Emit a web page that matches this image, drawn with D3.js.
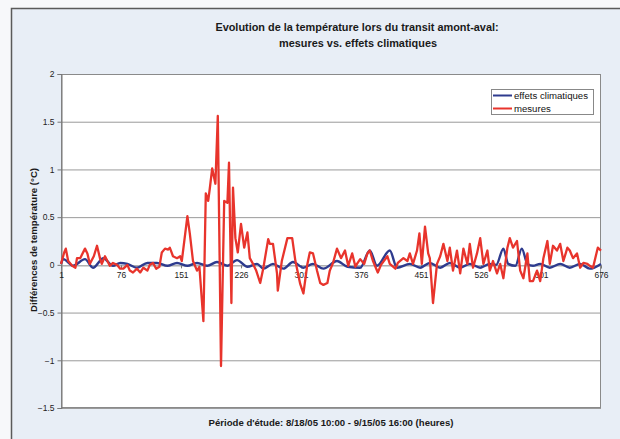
<!DOCTYPE html>
<html>
<head>
<meta charset="utf-8">
<script src="https://cdn.jsdelivr.net/npm/d3@7"></script>
<style>
  body { margin: 0; background: #f7f8fa; }
  svg { display: block; font-family: "Liberation Sans", Arial, sans-serif; }
</style>
</head>
<body>
<svg id="chart"></svg>
<script>
const width = 620;
const height = 439;

// hours (category index) and values
const mesuresHours = [1,5,7,10,15,19,21,25,31,34,37,42,46,50,52,56,62,66,71,75,79,84,87,91,96,100,104,109,112,116,120,124,127,131,135,137,141,146,150,152,159,162,166,171,174,179,182,185,187,190,194,197,201,205,209,211,214,216,219,222,226,230,234,237,241,245,250,254,256,260,262,266,271,272,277,284,290,294,300,304,309,312,316,321,325,329,334,337,341,346,351,356,360,365,369,371,375,380,384,387,391,397,401,409,412,419,422,429,434,437,441,446,449,452,456,460,462,466,471,475,479,484,487,491,496,500,504,509,512,516,521,525,529,534,537,541,546,550,554,559,562,566,571,575,579,584,587,591,596,600,604,609,612,616,621,625,629,634,637,641,646,650,654,659,662,666,672,676];
const mesuresValues = [0.01,0.13,0.17,0.04,-0.01,-0.03,0.07,0.07,0.17,0.12,0.01,0.09,0.2,0.06,0.01,0.09,-0.01,0.02,0,-0.04,-0.04,0,-0.06,-0.08,-0.04,-0.08,-0.03,-0.06,0,0.02,-0.04,-0.02,0.13,0.17,0.16,0.18,0.09,0.07,0.09,0.04,0.51,0.33,0.04,-0.06,-0.02,-0.59,0.75,0.67,0.8,1.01,0.85,1.56,-1.06,0.67,0.65,1.07,-0.4,0.81,0.28,0.13,0.43,0.18,0.34,0.07,0.01,-0.06,-0.19,-0.03,0.07,0.27,0.22,0.22,-0.09,-0.27,0.04,0.28,0.28,0.04,-0.2,-0.3,0.01,0.13,0.12,-0.06,-0.19,-0.21,-0.19,-0.06,0.02,0.17,0.07,0.15,-0.01,0.12,-0.02,0.01,0.06,0.01,0.12,0.15,0.04,-0.08,0,0.09,0.01,-0.04,0.02,0.07,0.04,0.12,0.01,0.15,0.33,0.01,0.4,0.12,0.07,-0.4,0.01,0.09,0.22,0.04,0.18,-0.06,0.15,-0.09,0.17,0.01,0.22,-0.03,0.12,0.28,0.01,0.15,-0.06,0.04,-0.09,0.01,-0.14,0.18,0.28,0.18,0.25,-0.06,-0.14,0.12,-0.17,-0.17,-0.06,-0.17,0.07,0.25,0.01,0.2,0.15,0.22,0.04,0.18,0.15,0.07,0.12,-0.03,0.02,0.01,-0.01,-0.03,0.18,0.15];

const climatHours = [1,4,16,31,41,54,66,75,84,96,109,121,134,146,159,171,184,196,209,221,234,246,254,266,279,291,304,316,329,346,359,375,387,396,412,421,437,450,462,475,487,500,512,525,537,545,554,560,569,577,584,591,600,612,625,637,650,662,676];
const climatValues = [0.01,0.06,-0.01,0.06,-0.03,0.07,-0.01,0.02,0.01,-0.03,0.02,0.02,-0.01,0.02,-0.01,0.02,-0.01,0.03,-0.01,0.05,-0.02,0.01,-0.04,0.01,-0.04,0.03,-0.03,0.01,-0.04,0.04,-0.02,-0.03,0.15,-0.01,0.15,-0.03,0.01,-0.03,0.02,-0.03,0.02,-0.03,0.01,-0.03,0.01,0,0.17,0.01,-0.01,0.17,0.01,-0.01,0.01,-0.03,0.01,-0.03,0.01,-0.04,0.01];

const xTicks = [1,76,151,226,301,376,451,526,601,676];
const yTicks = [-1.5,-1,-0.5,0,0.5,1,1.5,2];

const svg = d3.select("#chart")
  .attr("width", width)
  .attr("height", height);

// chart area (scanned paper tint)
svg.append("rect")
  .attr("x", 11.5).attr("y", 8.5)
  .attr("width", 620).attr("height", 440)
  .attr("fill", "#e8eef6")
  .attr("stroke", "#5a5a5a")
  .attr("stroke-width", 1.5);

const plot = { left: 61, right: 601, top: 74, bottom: 408 };

const x = d3.scaleLinear().domain([1, 676]).range([plot.left, plot.right]);
const y = d3.scaleLinear().domain([-1.5, 2]).range([plot.bottom, plot.top]);

svg.append("rect")
  .attr("x", plot.left).attr("y", plot.top)
  .attr("width", plot.right - plot.left).attr("height", plot.bottom - plot.top)
  .attr("fill", "#fff");

// gridlines
svg.append("g")
  .selectAll("line")
  .data(yTicks.filter(d => d !== 0))
  .enter().append("line")
  .attr("x1", plot.left).attr("x2", plot.right)
  .attr("y1", d => y(d) + 0.5).attr("y2", d => y(d) + 0.5)
  .attr("stroke", "#9a9a9a")
  .attr("stroke-width", 1);

svg.append("rect")
  .attr("x", plot.left + 0.5).attr("y", plot.top + 0.5)
  .attr("width", plot.right - plot.left - 1).attr("height", plot.bottom - plot.top - 1)
  .attr("fill", "none")
  .attr("stroke", "#8a8a8a");

// y axis
const yAxis = svg.append("g")
  .attr("transform", "translate(" + (plot.left + 0.5) + ",0)")
  .call(d3.axisLeft(y).tickValues(yTicks).tickSize(4).tickPadding(3)
    .tickFormat(d => d3.format("")(d)));
yAxis.select(".domain").attr("stroke", "#777");
yAxis.selectAll(".tick line").attr("stroke", "#777");
yAxis.selectAll("text")
  .attr("font-size", 8.5)
  .attr("fill", "#222")
  .attr("font-family", "Liberation Sans, Arial, sans-serif");

// x axis at zero
const xAxis = svg.append("g")
  .attr("transform", "translate(0," + (y(0) + 0.5) + ")")
  .call(d3.axisBottom(x).tickValues(xTicks).tickSize(3).tickPadding(4));
xAxis.select(".domain").attr("stroke", "#888");
xAxis.selectAll(".tick line").attr("stroke", "#777");
xAxis.selectAll("text")
  .attr("font-size", 8.5)
  .attr("fill", "#222")
  .attr("font-family", "Liberation Sans, Arial, sans-serif");

// lines
const blueLine = d3.line()
  .x((d, i) => x(climatHours[i]))
  .y(d => y(d))
  .curve(d3.curveMonotoneX);

const redLine = d3.line()
  .x((d, i) => x(mesuresHours[i]))
  .y(d => y(d));

svg.append("path")
  .datum(climatValues)
  .attr("fill", "none")
  .attr("stroke", "#2e3b8e")
  .attr("stroke-width", 2.4)
  .attr("d", blueLine);

svg.append("path")
  .datum(mesuresValues)
  .attr("fill", "none")
  .attr("stroke", "#e8342c")
  .attr("stroke-width", 2.3)
  .attr("stroke-linejoin", "round")
  .attr("d", redLine);

// legend
const legend = svg.append("g").attr("transform", "translate(491,89)");
legend.append("rect")
  .attr("x", 0.5).attr("y", 0.5)
  .attr("width", 102).attr("height", 25)
  .attr("fill", "#fff")
  .attr("stroke", "#888");
const legendItems = [
  { name: "effets climatiques", color: "#2e3b8e" },
  { name: "mesures", color: "#e8342c" }
];
legend.selectAll("g.item")
  .data(legendItems)
  .enter().append("g")
  .attr("class", "item")
  .attr("transform", (d, i) => "translate(0," + (6 + i * 13) + ")")
  .each(function (d) {
    const g = d3.select(this);
    g.append("line")
      .attr("x1", 2).attr("x2", 21)
      .attr("y1", 0.5).attr("y2", 0.5)
      .attr("stroke", d.color).attr("stroke-width", 2);
    g.append("text")
      .attr("x", 23).attr("y", 4)
      .attr("font-size", 9.6)
      .attr("fill", "#111")
      .text(d.name);
  });

// titles
svg.append("text")
  .attr("x", 357).attr("y", 31)
  .attr("text-anchor", "middle")
  .attr("font-size", 10.9)
  .attr("font-weight", "bold")
  .attr("fill", "#1a1a1a")
  .text("Evolution de la température lors du transit amont-aval:");
svg.append("text")
  .attr("x", 358).attr("y", 47)
  .attr("text-anchor", "middle")
  .attr("font-size", 10.9)
  .attr("font-weight", "bold")
  .attr("fill", "#1a1a1a")
  .text("mesures vs. effets climatiques");

svg.append("text")
  .attr("transform", "translate(37,240) rotate(-90)")
  .attr("text-anchor", "middle")
  .attr("font-size", 9.6)
  .attr("font-weight", "bold")
  .attr("fill", "#1a1a1a")
  .text("Différences de température (°C)");

svg.append("text")
  .attr("x", 331).attr("y", 426)
  .attr("text-anchor", "middle")
  .attr("font-size", 9.6)
  .attr("font-weight", "bold")
  .attr("fill", "#1a1a1a")
  .text("Période d'étude: 8/18/05 10:00 -  9/15/05 16:00 (heures)");
</script>
</body>
</html>
